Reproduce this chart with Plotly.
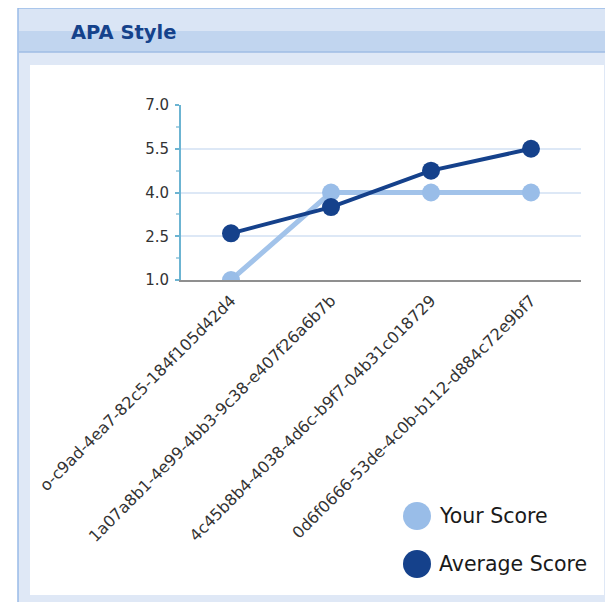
import plotly.graph_objects as go

# ---- data ----
categories = [
    "o-c9ad-4ea7-82c5-184f105d42d4",
    "1a07a8b1-4e99-4bb3-9c38-e407f26a6b7b",
    "4c45b8b4-4038-4d6c-b9f7-04b31c018729",
    "0d6f0666-53de-4c0b-b112-d884c72e9bf7",
]
your_score = [1.0, 4.0, 4.0, 4.0]
average_score = [2.6, 3.5, 4.75, 5.5]
y_ticks = [1.0, 2.5, 4.0, 5.5, 7.0]
series_names = ["Your Score", "Average Score"]
title_text = "APA Style"

# ---- geometry (pixels, in page coordinates; the page body adds an 8px offset) ----
OFF = 8
W_FIG, H_FIG = 613 - OFF, 602 - OFF
L, R, T, B = 181, 581, 105, 280
PW, PH = R - L, B - T


def X(px):
    return (px - L) / PW


def Y(py):
    return (B - py) / PH


LIGHT = "#99bde8"
DARK = "#15418b"

fig = go.Figure()
fig.add_trace(go.Scatter(
    x=categories, y=your_score, name=series_names[0], mode="lines+markers",
    line=dict(color="#a2c3ea", width=5),
    marker=dict(color=LIGHT, size=18),
    showlegend=False, hoverinfo="skip",
))
fig.add_trace(go.Scatter(
    x=categories, y=average_score, name=series_names[1], mode="lines+markers",
    line=dict(color=DARK, width=4),
    marker=dict(color=DARK, size=18),
    showlegend=False, hoverinfo="skip",
))

shapes = [
    # outer panel
    dict(type="rect", xref="paper", yref="paper", x0=X(18), x1=X(640), y0=Y(8), y1=Y(640),
         fillcolor="#dfe8f6", line=dict(color="#99bbe8", width=1.5), layer="below"),
    # header top (lighter)
    dict(type="rect", xref="paper", yref="paper", x0=X(19), x1=X(640), y0=Y(9), y1=Y(31),
         fillcolor="#dae5f5", line=dict(width=0), layer="below"),
    # header bottom band
    dict(type="rect", xref="paper", yref="paper", x0=X(19), x1=X(640), y0=Y(31), y1=Y(52),
         fillcolor="#c1d5ef", line=dict(width=0), layer="below"),
    dict(type="line", xref="paper", yref="paper", x0=X(19), x1=X(640), y0=Y(52), y1=Y(52),
         line=dict(color="#9fbde4", width=1.5), layer="below"),
    # white inner panel
    dict(type="rect", xref="paper", yref="paper", x0=X(30), x1=X(604), y0=Y(65), y1=Y(595),
         fillcolor="white", line=dict(width=0), layer="below"),
]

# legend (manual)
legend_colors = [LIGHT, DARK]
legend_y = [516, 564]
annotations = [
    dict(text="<b>" + title_text + "</b>", xref="paper", yref="paper", x=X(69), y=Y(32),
         xanchor="left", yanchor="middle", showarrow=False,
         font=dict(family="DejaVu Sans", size=19.5, color="#15428b")),
]
for name, col, py in zip(series_names, legend_colors, legend_y):
    shapes.append(dict(type="circle", xref="paper", yref="paper",
                       x0=X(403), x1=X(431), y0=Y(py - 14), y1=Y(py + 14),
                       fillcolor=col, line=dict(width=0), layer="above"))
    annotations.append(dict(text=name, xref="paper", yref="paper", x=X(437), y=Y(py),
                            xanchor="left", yanchor="middle", showarrow=False,
                            font=dict(family="DejaVu Sans", size=20.5, color="#1a1a1a")))

fig.update_layout(
    width=W_FIG, height=H_FIG, autosize=False,
    margin=dict(l=L - OFF, r=W_FIG - (R - OFF), t=T - OFF, b=H_FIG - (B - OFF), pad=0),
    paper_bgcolor="white", plot_bgcolor="white",
    showlegend=False,
    shapes=shapes, annotations=annotations,
    xaxis=dict(
        type="category", range=[-0.5, 3.5], showgrid=False, zeroline=False,
        showline=True, linecolor="#8f8f8f", linewidth=2,
        ticks="", tickangle=-45, automargin=False, ticklabelstandoff=3,
        tickfont=dict(family="DejaVu Sans", size=16, color="#333333"),
    ),
    yaxis=dict(
        range=[1, 7], tickvals=y_ticks, tickformat=".1f",
        showgrid=True, gridcolor="#dde8f6", gridwidth=1.5, zeroline=False,
        showline=True, linecolor="#6cb4d2", linewidth=2,
        ticks="outside", ticklen=4, tickwidth=2, tickcolor="#6cb4d2",
        ticklabelstandoff=3,
        minor=dict(dtick=0.75, tick0=1, ticks="outside", ticklen=3, tickwidth=2,
                   tickcolor="#a8d2e4", showgrid=False),
        automargin=False,
        tickfont=dict(family="DejaVu Sans", size=15, color="#333333"),
    ),
)

fig.write_html("out.html")
